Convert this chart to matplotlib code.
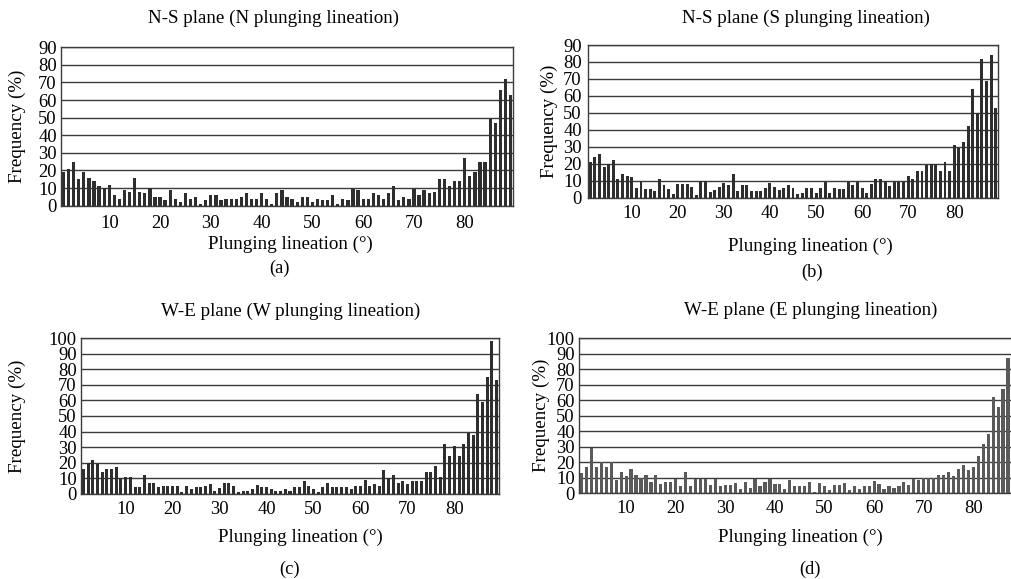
import matplotlib
matplotlib.use("Agg")
import matplotlib.pyplot as plt

plt.rcParams['font.family'] = ['Liberation Serif', 'DejaVu Serif']

W, H = 1011, 579

angles = list(range(1, 90))
xtick_vals = [10, 20, 30, 40, 50, 60, 70, 80]

freq_ns_n = [19, 21, 25, 15, 19, 16, 14, 11, 10, 12,
             6, 4, 9, 8, 16, 8, 7, 10, 5, 5,
             3, 9, 4, 2, 7, 4, 5, 1, 3, 6,
             6, 3, 4, 4, 4, 5, 7, 4, 4, 7,
             4, 1, 7, 9, 5, 4, 2, 5, 5, 2,
             4, 3, 3, 6, 1, 4, 3, 9.5, 9, 4,
             4, 7, 6, 4, 7, 11, 3, 5, 4, 9.5,
             6, 9, 7, 8, 15, 15, 11, 14, 14, 27,
             17, 19, 25, 25, 49, 47, 66, 72, 63]

freq_ns_s = [21, 24, 26, 18, 20, 22, 11, 14, 13, 12,
             6, 10, 5, 5, 4, 11, 7.5, 5, 2, 8,
             8, 8, 6.5, 1.5, 10, 10, 3.5, 4.5, 6.5, 8.5,
             7.5, 14, 4, 7.5, 7.5, 4, 4, 4, 5.5, 8.5,
             6.5, 4.5, 5.5, 7.5, 6, 2, 3, 6, 5.5, 2.5,
             5.5, 9, 3, 6, 5, 5, 9, 7.5, 9.5, 6,
             3, 8, 11, 11, 9.5, 7, 9.5, 9.5, 9.5, 13,
             11, 16, 16, 19, 20, 20, 16, 21, 16, 31,
             29, 33, 42, 64, 50, 82, 69, 84, 53]

freq_we_w = [16, 20, 22, 19, 14, 16, 16, 17, 10, 11,
             11, 4, 4, 12, 7, 7, 4, 5, 5, 5,
             5, 1, 5, 3, 4, 4, 5, 6, 1.5, 3.5,
             7, 7, 5, 1, 2, 2, 3, 5.5, 4, 4,
             3, 2, 2, 3, 1.5, 4.5, 4.5, 8, 5, 3,
             1, 4.5, 7, 4, 4.5, 4.5, 4, 3, 5, 5,
             9, 5, 6, 5, 15, 10, 12, 7, 8, 6,
             8, 8, 8, 14, 14, 18, 11, 32, 24, 31,
             24, 32, 39, 38, 64, 59, 75, 98, 73]

# last visible bars of panel (d); the original figure is cropped on the right
freq_we_e = [13, 17, 29, 17, 20, 17, 20, 8.5, 14, 11,
             16, 12, 10, 12, 7.5, 12, 6, 7.5, 7.5, 9,
             4.5, 14, 4.5, 9, 9.5, 9.5, 5.5, 9, 4.5, 5.5,
             5.5, 6.5, 2.5, 7.5, 3.5, 9, 4.5, 7.5, 9, 6,
             6, 3, 8.5, 4.5, 4.5, 4.5, 7, 1, 6.5, 5,
             2, 5.5, 5.5, 6.5, 2, 5, 3, 5, 5, 8,
             6, 3, 5, 3.5, 4.5, 7, 5.5, 9.5, 8.5, 10,
             10, 10, 11.5, 12, 14, 11, 16, 18, 15, 17,
             24, 32, 38, 62, 56, 67, 87]

titles = ["N-S plane (N plunging lineation)", "N-S plane (S plunging lineation)",
          "W-E plane (W plunging lineation)", "W-E plane (E plunging lineation)"]
panel_tags = ["(a)", "(b)", "(c)", "(d)"]
xlab = "Plunging lineation (\u00b0)"
ylab = "Frequency (%)"

fig = plt.figure(figsize=(W / 100, H / 100), dpi=100)


def fx(x):
    return x / W


def fy(y):
    return 1 - y / H


FS_TICK = 13.3
FS_TEXT = 13.7
FS_TAG = 13.3

panels = [
    dict(l=61, r=513, t=47.3, b=205.7, ymax=90, data=freq_ns_n, color='#2e2e2e',
         title=(274, 18), xl=(290, 244), tag=(280, 268), ylx=17, xpad=7, ypad=3),
    dict(l=588, r=998, t=45, b=197.7, ymax=90, data=freq_ns_s, color='#2e2e2e',
         title=(806, 18), xl=(810, 246), tag=(812, 272), ylx=549, xpad=5, ypad=4.5),
    dict(l=81, r=499, t=338.3, b=493.7, ymax=100, data=freq_we_w, color='#2e2e2e',
         title=(291, 311), xl=(300, 537), tag=(290, 569), ylx=17, xpad=5, ypad=3),
    dict(l=579, r=579 + 89 * 4.96, t=338.3, b=493.3, ymax=100, data=freq_we_e, color='#5a5a5a',
         title=(811, 310), xl=(800, 537), tag=(810, 569), ylx=541, xpad=5, ypad=3),
]

for i, p in enumerate(panels):
    ax = fig.add_axes([fx(p['l']), fy(p['b']), (p['r'] - p['l']) / W, (p['b'] - p['t']) / H])
    ax.bar(angles[:len(p['data'])], p['data'], width=0.64, color=p['color'], linewidth=0, zorder=2)
    ax.set_xlim(0.5, 89.5)
    ax.set_ylim(0, p['ymax'])
    ax.set_yticks(list(range(0, p['ymax'] + 1, 10)))
    ax.set_xticks(xtick_vals)
    ax.set_xticklabels([str(v) for v in xtick_vals])
    ax.tick_params(axis='both', length=0, labelsize=FS_TICK)
    ax.tick_params(axis='x', pad=p['xpad'])
    ax.tick_params(axis='y', pad=p['ypad'])
    ax.grid(axis='y', color='#3c3c3c', linewidth=1.0, zorder=1)
    ax.set_axisbelow(True)
    for s in ax.spines.values():
        s.set_color('#3c3c3c')
        s.set_linewidth(1.0)
    fig.text(fx(p['title'][0]), fy(p['title'][1]), titles[i], ha='center', va='center', fontsize=FS_TEXT)
    fig.text(fx(p['xl'][0]), fy(p['xl'][1]), xlab, ha='center', va='center', fontsize=FS_TEXT)
    fig.text(fx(p['tag'][0]), fy(p['tag'][1]), panel_tags[i], ha='center', va='center', fontsize=FS_TAG)
    fig.text(fx(p['ylx']), fy((p['t'] + p['b']) / 2), ylab, ha='center', va='center',
             rotation=90, fontsize=FS_TEXT)

fig.savefig("out.png", dpi=100)
